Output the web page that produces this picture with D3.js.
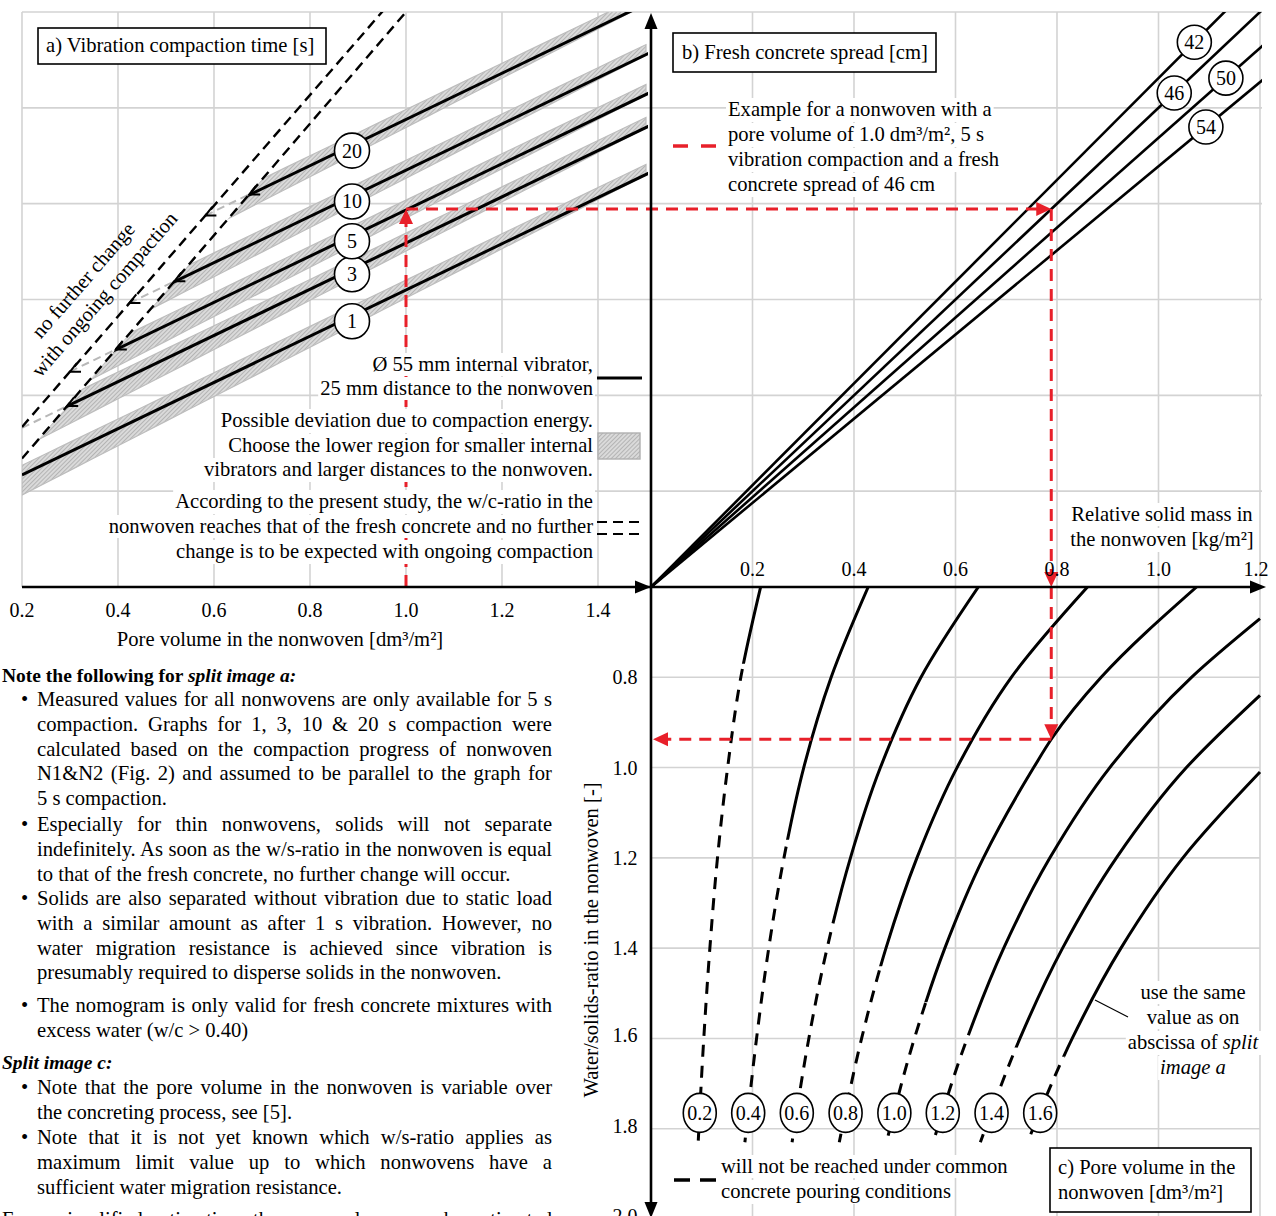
<!DOCTYPE html>
<html><head><meta charset="utf-8">
<script src="https://cdn.jsdelivr.net/npm/d3@7"></script>
<style>
body{margin:0;background:#fff}
svg{display:block;font-family:"Liberation Serif","Times New Roman",serif;}
</style></head><body>
<svg id="chart" width="1276" height="1216"></svg>
<script>
// ---------------- data ----------------
const poreTicks  = [0.2, 0.4, 0.6, 0.8, 1.0, 1.2, 1.4];
const massTicks  = [0.2, 0.4, 0.6, 0.8, 1.0, 1.2];
const ratioTicks = [0.8, 1.0, 1.2, 1.4, 1.6, 1.8, 2.0];
const indexGrid  = [0.2, 0.4, 0.6, 0.8, 1.0, 1.2];

// split image a: separated-solids index vs. pore volume, one straight line per compaction time
const compactionTimes = [1, 3, 5, 10, 20];
const indexAtPore02   = [0.234, 0.332, 0.401, 0.484, 0.590];
const indexAtPore15   = [0.864, 0.962, 1.031, 1.114, 1.220];
const bandUpper = [0.020, 0.018];    // band edge above the line at pore 0.2 / 1.5
const bandLower = [-0.042, -0.004];  // band edge below the line at pore 0.2 / 1.5
const limitOuter = [[0.2, 0.334], [0.95, 1.2]];
const limitInner = [[0.2, 0.268], [1.0, 1.2]];

// split image b: fresh concrete spread rays
const spreads          = [42, 46, 50, 54];
const spreadFactor     = [1.062, 1.0, 0.9375, 0.878];
const spreadLabelIndex = [1.137, 1.031, 1.062, 0.96];

// split image c: water/solids ratio vs. relative solid mass for each pore volume
const poreVolumes = [0.2, 0.4, 0.6, 0.8, 1.0, 1.2, 1.4, 1.6];
const ratioCurves = [
  [[0.216,0.6],[0.177,0.8],[0.151,1.0],[0.131,1.2],[0.116,1.4],[0.104,1.6],[0.093,1.83]],
  [[0.428,0.6],[0.355,0.8],[0.301,1.0],[0.262,1.2],[0.232,1.4],[0.208,1.6],[0.185,1.83]],
  [[0.645,0.6],[0.532,0.8],[0.452,1.0],[0.393,1.2],[0.347,1.4],[0.311,1.6],[0.278,1.83]],
  [[0.860,0.6],[0.710,0.8],[0.603,1.0],[0.524,1.2],[0.463,1.4],[0.415,1.6],[0.371,1.83]],
  [[1.075,0.6],[0.887,0.8],[0.790,0.935],[0.754,1.0],[0.655,1.2],[0.579,1.4],[0.519,1.6],[0.464,1.83]],
  [[1.200,0.67],[1.065,0.8],[0.904,1.0],[0.786,1.2],[0.695,1.4],[0.623,1.6],[0.556,1.83]],
  [[1.200,0.84],[1.055,1.0],[0.917,1.2],[0.811,1.4],[0.727,1.6],[0.649,1.83]],
  [[1.200,1.01],[1.048,1.2],[0.926,1.4],[0.830,1.6],[0.742,1.83]]
];
const dashedFrom = [0.77, 1.16, 1.34, 1.44, 1.52, 1.57, 1.62, 1.64];
const curveLabelRatio = 1.765;

// worked example
const examplePore = 1.0, exampleTime = 5, exampleSpread = 46;

// ---------------- scales ----------------
const xPore  = d3.scaleLinear([0.2, 1.5], [22, 646]);
const yIdx   = d3.scaleLinear([0, 1.2], [587, 12]);
const xMass  = d3.scaleLinear([0, 1.2], [651, 1260]);
const yRatio = d3.scaleLinear([0.6, 2.0], [587, 1219]);

const svg = d3.select("#chart");
const defs = svg.append("defs");
const RED = "#e8202a", GRID = "#d3d3d3";
const FS = 20.6;

// hatch for the deviation bands
const pat = defs.append("pattern").attr("id", "hatch").attr("patternUnits", "userSpaceOnUse")
  .attr("width", 3).attr("height", 3).attr("patternTransform", "rotate(45)");
pat.append("rect").attr("width", 3).attr("height", 3).attr("fill", "#dadada");
pat.append("line").attr("x1", 0).attr("y1", 0).attr("x2", 0).attr("y2", 3)
  .attr("stroke", "#8e8e8e").attr("stroke-width", 1);

function clipRect(id, x0, y0, x1, y1) {
  defs.append("clipPath").attr("id", id).append("rect")
    .attr("x", x0).attr("y", y0).attr("width", x1 - x0).attr("height", y1 - y0);
}
clipRect("clipA", 22, 12, 648, 587);
clipRect("clipB", 651, 12, 1262, 587);
clipRect("clipC", 651, 587, 1262, 1216);

// line helpers (panel a)
const lineAt = (i, p) => indexAtPore02[i] + (indexAtPore15[i] - indexAtPore02[i]) * (p - 0.2) / 1.3;
const slopeOf = i => (indexAtPore15[i] - indexAtPore02[i]) / 1.3;
function limitHit(i, lim) {
  const t = (lim[1][1] - lim[0][1]) / (lim[1][0] - lim[0][0]);
  const p = lim[0][0] + (indexAtPore02[i] - lim[0][1] + slopeOf(i) * (lim[0][0] - 0.2)) / (t - slopeOf(i));
  return Math.max(0.2, p);
}
// region to the right of the inner limit line
defs.append("clipPath").attr("id", "clipInner").append("polygon")
  .attr("points", [[xPore(limitInner[0][0]), yIdx(limitInner[0][1])],
                   [xPore(limitInner[1][0]), yIdx(limitInner[1][1])],
                   [648, 12], [648, 587], [22, 587]].map(d => d.join(",")).join(" "));

// ---------------- grid ----------------
const grid = svg.append("g").attr("stroke", GRID).attr("stroke-width", 1.6);
indexGrid.forEach(v => grid.append("line").attr("x1", 22).attr("x2", xMass(1.2) + 2)
  .attr("y1", yIdx(v)).attr("y2", yIdx(v)));
poreTicks.forEach(p => grid.append("line").attr("x1", xPore(p)).attr("x2", xPore(p))
  .attr("y1", 12).attr("y2", 587));
massTicks.forEach(m => grid.append("line").attr("x1", xMass(m)).attr("x2", xMass(m))
  .attr("y1", 12).attr("y2", 1216));
ratioTicks.filter(r => r < 2).forEach(r => grid.append("line").attr("x1", 651).attr("x2", xMass(1.2))
  .attr("y1", yRatio(r)).attr("y2", yRatio(r)));

// ---------------- split image a ----------------
const gA = svg.append("g").attr("clip-path", "url(#clipA)");
const bandG = gA.append("g").attr("clip-path", "url(#clipInner)");
compactionTimes.forEach((t, i) => {
  const ps = d3.range(0.2, 1.5001, 0.05);
  const up = ps.map(p => [xPore(p), yIdx(lineAt(i, p) + bandUpper[0] + (bandUpper[1] - bandUpper[0]) * (p - 0.2) / 1.3)]);
  const lo = ps.map(p => [xPore(p), yIdx(lineAt(i, p) + bandLower[0] + (bandLower[1] - bandLower[0]) * (p - 0.2) / 1.3)]);
  bandG.append("polygon").attr("points", up.concat(lo.reverse()).map(d => d.join(",")).join(" "))
    .attr("fill", "url(#hatch)").attr("stroke", "#bdbdbd").attr("stroke-width", 1.2);
});
// extensions between the two limit lines
compactionTimes.forEach((t, i) => {
  const pIn = limitHit(i, limitInner), pOut = limitHit(i, limitOuter);
  if (pIn <= 0.2) return;
  gA.append("line").attr("x1", xPore(pOut)).attr("y1", yIdx(lineAt(i, pOut)))
    .attr("x2", xPore(pIn)).attr("y2", yIdx(lineAt(i, pIn)))
    .attr("stroke", "#b8b8b8").attr("stroke-width", 2).attr("stroke-dasharray", "8,5");
});
[limitOuter, limitInner].forEach(lim => {
  const t = (lim[1][1] - lim[0][1]) / (lim[1][0] - lim[0][0]);
  gA.append("line").attr("x1", xPore(0.2)).attr("y1", yIdx(lim[0][1] - t * (lim[0][0] - 0.2)))
    .attr("x2", xPore(lim[1][0] + 0.05)).attr("y2", yIdx(lim[1][1] + t * 0.05))
    .attr("stroke", "#000").attr("stroke-width", 2.4).attr("stroke-dasharray", "10,6");
});
const solidG = gA.append("g").attr("clip-path", "url(#clipInner)");
compactionTimes.forEach((t, i) => {
  solidG.append("line").attr("x1", xPore(0.2)).attr("y1", yIdx(indexAtPore02[i]))
    .attr("x2", xPore(1.5) + 3).attr("y2", yIdx(indexAtPore15[i]))
    .attr("stroke", "#000").attr("stroke-width", 3);
});
function chevron(g, x, y, dx, dy, len, col, w) {
  const a = Math.atan2(dy, dx), s = 0.45;
  const p1 = [x - len * Math.cos(a - s), y - len * Math.sin(a - s)];
  const p2 = [x - len * Math.cos(a + s), y - len * Math.sin(a + s)];
  g.append("path").attr("d", `M${p1}L${x},${y}L${p2}`).attr("fill", "none")
    .attr("stroke", col).attr("stroke-width", w);
}
compactionTimes.forEach((t, i) => {
  const pIn = limitHit(i, limitInner), pOut = limitHit(i, limitOuter);
  const dx = xPore(0.2) - xPore(1.5), dy = yIdx(indexAtPore02[i]) - yIdx(indexAtPore15[i]);
  if (pIn > 0.2) chevron(gA, xPore(pIn), yIdx(lineAt(i, pIn)), dx, dy, 11, "#000", 2);
  if (pOut > 0.21) chevron(gA, xPore(pOut), yIdx(lineAt(i, pOut)), dx, dy, 11, "#000", 2);
});

// ---------------- split image b ----------------
const gB = svg.append("g").attr("clip-path", "url(#clipB)");
spreads.forEach((s, i) => {
  gB.append("line").attr("x1", xMass(0)).attr("y1", yIdx(0))
    .attr("x2", xMass(1.3)).attr("y2", yIdx(1.3 * spreadFactor[i]))
    .attr("stroke", "#000").attr("stroke-width", 2.6);
});

// ---------------- split image c ----------------
const gC = svg.append("g").attr("clip-path", "url(#clipC)");
const curveGen = d3.line().x(d => xMass(d[0])).y(d => yRatio(d[1])).curve(d3.curveMonotoneY);
ratioCurves.forEach((pts, i) => {
  const id = "cs" + i, id2 = "cd" + i;
  clipRect(id, 640, 580, 1262, yRatio(dashedFrom[i]));
  clipRect(id2, 640, yRatio(dashedFrom[i]), 1262, 1216);
  gC.append("path").attr("d", curveGen(pts)).attr("clip-path", `url(#${id})`)
    .attr("fill", "none").attr("stroke", "#000").attr("stroke-width", 3);
  gC.append("path").attr("d", curveGen(pts)).attr("clip-path", `url(#${id2})`)
    .attr("fill", "none").attr("stroke", "#000").attr("stroke-width", 3)
    .attr("stroke-dasharray", "12,9");
});
function massOnCurve(pts, r) {
  for (let k = 1; k < pts.length; k++) {
    if (r <= pts[k][1]) {
      const f = (r - pts[k - 1][1]) / (pts[k][1] - pts[k - 1][1]);
      return pts[k - 1][0] + f * (pts[k][0] - pts[k - 1][0]);
    }
  }
  return pts[pts.length - 1][0];
}
function ratioOnCurve(pts, m) {
  for (let k = 1; k < pts.length; k++) {
    if (m >= pts[k][0]) {
      const f = (m - pts[k - 1][0]) / (pts[k][0] - pts[k - 1][0]);
      return pts[k - 1][1] + f * (pts[k][1] - pts[k - 1][1]);
    }
  }
  return pts[pts.length - 1][1];
}

// ---------------- worked example (red) ----------------
const exI = compactionTimes.indexOf(exampleTime);
const exIdx = lineAt(exI, examplePore);
const exMass = exIdx / spreadFactor[spreads.indexOf(exampleSpread)];
const exRatio = ratioOnCurve(ratioCurves[poreVolumes.indexOf(examplePore)], exMass);
const gR = svg.append("g");
function redSeg(x1, y1, x2, y2) {
  gR.append("line").attr("x1", x1).attr("y1", y1).attr("x2", x2).attr("y2", y2)
    .attr("stroke", RED).attr("stroke-width", 3).attr("stroke-dasharray", "12,8");
}
function redHead(x, y, dir) {
  const L = 15, W = 7;
  const pts = { up: [[x, y], [x - W, y + L], [x + W, y + L]],
                down: [[x, y], [x - W, y - L], [x + W, y - L]],
                right: [[x, y], [x - L, y - W], [x - L, y + W]],
                left: [[x, y], [x + L, y - W], [x + L, y + W]] }[dir];
  gR.append("polygon").attr("points", pts.map(d => d.join(",")).join(" ")).attr("fill", RED);
}
const ex0 = xPore(examplePore), ey0 = yIdx(exIdx), exm = xMass(exMass), eyr = yRatio(exRatio);
redSeg(ex0, 587, ex0, ey0 + 12); redHead(ex0, ey0, "up");
redSeg(ex0, ey0, exm - 12, ey0); redHead(exm, ey0, "right");
redSeg(exm, ey0, exm, 587 - 12); redHead(exm, 587, "down");
redSeg(exm, 587, exm, eyr - 12); redHead(exm, eyr, "down");
redSeg(exm, eyr, 651 + 12, eyr); redHead(653, eyr, "left");

// ---------------- axes ----------------
const ax = svg.append("g");
ax.append("line").attr("x1", 22).attr("x2", 1256).attr("y1", 587).attr("y2", 587)
  .attr("stroke", "#000").attr("stroke-width", 2.6);
ax.append("line").attr("x1", 651).attr("x2", 651).attr("y1", 24).attr("y2", 1206)
  .attr("stroke", "#000").attr("stroke-width", 2.6);
function blackHead(x, y, dir, L = 16, W = 6.5) {
  const pts = { up: [[x, y], [x - W, y + L], [x + W, y + L]],
                down: [[x, y], [x - W, y - L], [x + W, y - L]],
                right: [[x, y], [x - L, y - W], [x - L, y + W]] }[dir];
  ax.append("polygon").attr("points", pts.map(d => d.join(",")).join(" ")).attr("fill", "#000");
}
blackHead(1266, 587, "right");
blackHead(651, 587, "right");
blackHead(651, 13, "up");
blackHead(651, 1218, "down");

// ---------------- text helpers ----------------
function txt(g, x, y, s, o = {}) {
  const t = g.append("text").attr("x", x).attr("y", y).attr("font-size", o.size || FS)
    .attr("text-anchor", o.anchor || "start").attr("fill", o.fill || "#000");
  if (o.weight) t.attr("font-weight", o.weight);
  if (o.style) t.attr("font-style", o.style);
  if (Array.isArray(s)) s.forEach(part => {
    const ts = t.append("tspan").text(part.t);
    if (part.style) ts.attr("font-style", part.style);
    if (part.weight) ts.attr("font-weight", part.weight);
  }); else t.text(s);
  return t;
}
function whiteBehind(g, t, pad = 2) {
  const b = t.node().getBBox();
  g.insert("rect", () => t.node()).attr("x", b.x - pad).attr("y", b.y)
    .attr("width", b.width + 2 * pad).attr("height", b.height + 1).attr("fill", "#fff");
}
function justified(g, x, y, width, s, last) {
  const t = txt(g, x, y, s);
  if (!last) {
    const w = t.node().getComputedTextLength();
    const n = (s.match(/ /g) || []).length;
    if (n) t.attr("word-spacing", ((width - w) / n).toFixed(2));
  }
  return t;
}
function badge(g, x, y, label, rx, ry) {
  g.append("ellipse").attr("cx", x).attr("cy", y).attr("rx", rx).attr("ry", ry)
    .attr("fill", "#fff").attr("stroke", "#000").attr("stroke-width", 1.6);
  txt(g, x, y + 7, label, { anchor: "middle", size: 20 });
}

const T = svg.append("g");

// tick labels
poreTicks.forEach(p => txt(T, xPore(p), 617, p.toFixed(1), { anchor: "middle", size: 20 }));
massTicks.forEach(m => txt(T, xMass(m) - (m === 1.2 ? 4 : 0), 576, m.toFixed(1), { anchor: "middle", size: 20 }));
ratioTicks.forEach(r => txt(T, 625, yRatio(r) + 7 - (r > 1.5 ? 3 : 0), r.toFixed(1), { anchor: "middle", size: 20 }));

// axis titles
txt(T, 280, 646, "Pore volume in the nonwoven [dm³/m²]", { anchor: "middle" });
[["Relative solid mass in", 521], ["the nonwoven [kg/m²]", 546]].forEach(([s, y]) => {
  const t = txt(T, 1162, y, s, { anchor: "middle" }); whiteBehind(T, t);
});
T.append("text").attr("transform", "translate(598,940) rotate(-90)").attr("text-anchor", "middle")
  .attr("font-size", FS).text("Water/solids-ratio in the nonwoven [-]");

// panel titles
T.append("rect").attr("x", 38).attr("y", 28).attr("width", 288).attr("height", 36)
  .attr("fill", "#fff").attr("stroke", "#000").attr("stroke-width", 1.6);
txt(T, 46, 52, "a) Vibration compaction time [s]");
T.append("rect").attr("x", 673).attr("y", 33).attr("width", 263).attr("height", 39)
  .attr("fill", "#fff").attr("stroke", "#000").attr("stroke-width", 1.6);
txt(T, 682, 59, "b) Fresh concrete spread [cm]");
T.append("rect").attr("x", 1050).attr("y", 1148).attr("width", 201).attr("height", 64)
  .attr("fill", "#fff").attr("stroke", "#000").attr("stroke-width", 1.6);
txt(T, 1058, 1174, "c) Pore volume in the");
txt(T, 1058, 1199, "nonwoven [dm³/m²]");

// rotated note along the limit lines
T.append("text").attr("transform", "translate(83,280) rotate(-49)").attr("text-anchor", "middle")
  .attr("dy", "0.35em").attr("font-size", FS).text("no further change");
T.append("text").attr("transform", "translate(104,294) rotate(-49)").attr("text-anchor", "middle")
  .attr("dy", "0.35em").attr("font-size", FS).text("with ongoing compaction");

// legend of split image a
const legA = [
  ["Ø 55 mm internal vibrator,", 371], ["25 mm distance to the nonwoven", 395],
  ["Possible deviation due to compaction energy.", 427], ["Choose the lower region for smaller internal", 452],
  ["vibrators and larger distances to the nonwoven.", 476],
  ["According to the present study, the w/c-ratio in the", 508],
  ["nonwoven reaches that of the fresh concrete and no further", 533],
  ["change is to be expected with ongoing compaction", 558]
];
legA.forEach(([s, y]) => { const t = txt(T, 593, y, s, { anchor: "end" }); whiteBehind(T, t); });
T.append("line").attr("x1", 597).attr("x2", 642).attr("y1", 378).attr("y2", 378)
  .attr("stroke", "#000").attr("stroke-width", 3);
T.append("rect").attr("x", 598).attr("y", 433).attr("width", 42).attr("height", 26)
  .attr("fill", "url(#hatch)").attr("stroke", "#b0b0b0").attr("stroke-width", 1.4);
[522, 534].forEach(y => T.append("line").attr("x1", 597).attr("x2", 643).attr("y1", y).attr("y2", y)
  .attr("stroke", "#000").attr("stroke-width", 2.2).attr("stroke-dasharray", "10,6"));

// legend of the worked example
[["Example for a nonwoven with a", 116], ["pore volume of 1.0 dm³/m², 5 s", 141],
 ["vibration compaction and a fresh", 166], ["concrete spread of 46 cm", 191]]
  .forEach(([s, y]) => { const t = txt(T, 728, y, s); whiteBehind(T, t); });
T.append("line").attr("x1", 673).attr("x2", 716).attr("y1", 146).attr("y2", 146)
  .attr("stroke", RED).attr("stroke-width", 3.5).attr("stroke-dasharray", "15,13");

// hint in split image c
const hint = [[[{ t: "use the same" }], 999], [[{ t: "value as on" }], 1024],
  [[{ t: "abscissa of " }, { t: "split", style: "italic" }], 1049], [[{ t: "image a", style: "italic" }], 1074]];
hint.forEach(([parts, y]) => { const t = txt(T, 1193, y, parts, { anchor: "middle" }); whiteBehind(T, t); });
T.append("line").attr("x1", 1128).attr("y1", 1017).attr("x2", 1095).attr("y2", 1000)
  .attr("stroke", "#000").attr("stroke-width", 1.2);

// legend of dashed curve parts
[["will not be reached under common", 1173], ["concrete pouring conditions", 1198]]
  .forEach(([s, y]) => { const t = txt(T, 721, y, s); whiteBehind(T, t); });
T.append("line").attr("x1", 674).attr("x2", 718).attr("y1", 1180).attr("y2", 1180)
  .attr("stroke", "#000").attr("stroke-width", 3.5).attr("stroke-dasharray", "16,10");

// ---------------- value badges ----------------
compactionTimes.forEach((t, i) => {
  const p = 0.8875;
  badge(T, xPore(p), yIdx(lineAt(i, p)) + 6, String(t), 17.5, 17.5);
});
spreads.forEach((s, i) => {
  const v = spreadLabelIndex[i];
  badge(T, xMass(v / spreadFactor[i]), yIdx(v), String(s), 17, 17);
});
poreVolumes.forEach((p, i) => {
  const m = massOnCurve(ratioCurves[i], curveLabelRatio);
  badge(T, xMass(m), yRatio(curveLabelRatio), p.toFixed(1), 16.5, 19.5);
});

// ---------------- notes ----------------
const N = svg.append("g");
txt(N, 2, 682, [{ t: "Note the following for ", weight: "bold" }, { t: "split image a:", weight: "bold", style: "italic" }], { size: 19.5 });
const bulletsA = [
  [["Measured values for all nonwovens are only available for 5 s",
    "compaction. Graphs for 1, 3, 10 & 20 s compaction were",
    "calculated based on the compaction progress of nonwoven",
    "N1&N2 (Fig. 2) and assumed to be parallel to the graph for",
    "5 s compaction."], 706],
  [["Especially for thin nonwovens, solids will not separate",
    "indefinitely. As soon as the w/s-ratio in the nonwoven is equal",
    "to that of the fresh concrete, no further change will occur."], 831],
  [["Solids are also separated without vibration due to static load",
    "with a similar amount as after 1 s vibration. However, no",
    "water migration resistance is achieved since vibration is",
    "presumably required to disperse solids in the nonwoven."], 905],
  [["The nomogram is only valid for fresh concrete mixtures with",
    "excess water (w/c > 0.40)"], 1012]
];
const bulletsC = [
  [["Note that the pore volume in the nonwoven is variable over",
    "the concreting process, see [5]."], 1094],
  [["Note that it is not yet known which w/s-ratio applies as",
    "maximum limit value up to which nonwovens have a",
    "sufficient water migration resistance."], 1144]
];
function bulletBlock(lines, y0) {
  txt(N, 21, y0, "•");
  lines.forEach((s, k) => justified(N, 37, y0 + k * 24.8, 515, s, k === lines.length - 1));
}
bulletsA.forEach(([l, y]) => bulletBlock(l, y));
txt(N, 2, 1069, "Split image c:", { weight: "bold", style: "italic", size: 19.5 });
bulletsC.forEach(([l, y]) => bulletBlock(l, y));
justified(N, 2, 1226, 550, "For a simplified estimation, the pore volume can be estimated", false);
</script>
</body></html>
